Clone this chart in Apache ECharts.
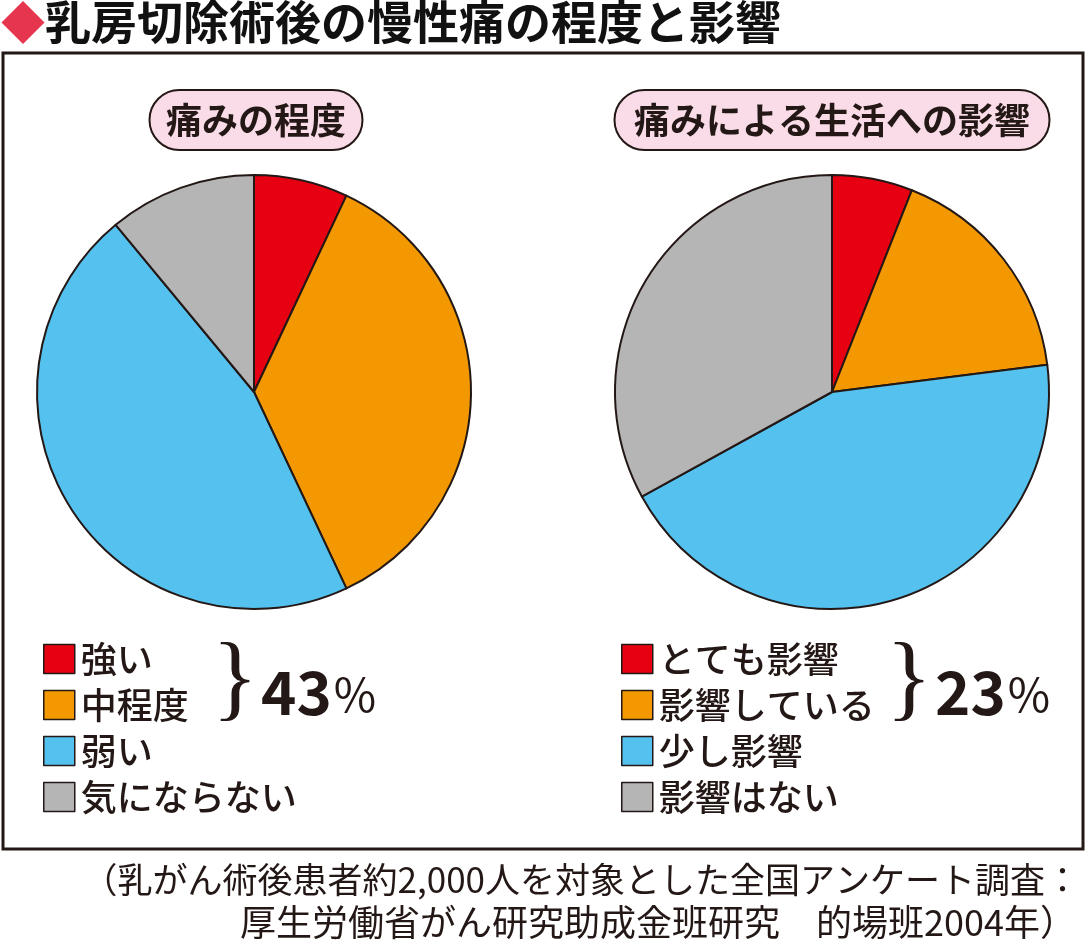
<!DOCTYPE html>
<html>
<head>
<meta charset="utf-8">
<script src="https://cdn.jsdelivr.net/npm/echarts@6/dist/echarts.min.js"></script>
<style>
html,body{margin:0;padding:0;background:#fff;}
#chart{width:1088px;height:944px;}
</style>
</head>
<body>
<div id="chart"></div>
<script>
// ---- data ----
const titleText = '乳房切除術後の慢性痛の程度と影響';
const painTitle = '痛みの程度';
const impactTitle = '痛みによる生活への影響';
const painCategories = ['強い', '中程度', '弱い', '気にならない'];
const painValues = [7, 36, 46, 11];
const impactCategories = ['とても影響', '影響している', '少し影響', '影響はない'];
const impactValues = [6, 17, 44, 33];
const sliceColors = ['#e60012', '#f39800', '#55c1ee', '#b5b5b6'];
const footLine1 = '（乳がん術後患者約2,000人を対象とした全国アンケート調査：';
const footLine2 = '厚生労働省がん研究助成金班研究　的場班2004年）';

const painTop2 = painValues[0] + painValues[1];
const impactTop2 = impactValues[0] + impactValues[1];

const FONT = '"Noto Sans CJK JP", "Noto Sans", sans-serif';
const INK = '#231815';

function toData(cats, vals) {
  return cats.map((c, i) => ({ name: c, value: vals[i], itemStyle: { color: sliceColors[i] } }));
}

const chart = echarts.init(document.getElementById('chart'), null, { renderer: 'canvas' });

function legendCfg(left, names) {
  return {
    orient: 'vertical',
    left: left,
    top: 636,
    data: names,
    icon: 'rect',
    itemWidth: 31,
    itemHeight: 29,
    itemGap: 10,
    selectedMode: false,
    itemStyle: { borderColor: INK, borderWidth: 1.5 },
    textStyle: { fontFamily: FONT, fontSize: 36, fontWeight: 500, color: INK, lineHeight: 36, padding: [0, 0, 0, 1] }
  };
}

function pill(cx, w, text) {
  return {
    type: 'group',
    children: [
      { type: 'rect', shape: { x: cx - w / 2, y: 90, width: w, height: 60, r: 30 },
        style: { fill: '#f9dce7', stroke: INK, lineWidth: 2 } },
      { type: 'text', x: cx, y: 120,
        style: { text: text, fontFamily: FONT, fontSize: 36, fontWeight: 'bold', fill: INK,
                 align: 'center', verticalAlign: 'middle' } }
    ]
  };
}

function bracePct(x, pct) {
  return {
    type: 'group',
    children: [
      { type: 'text', x: x, y: 683,
        style: { text: '}', fontFamily: '"Liberation Serif", serif', fontSize: 96, fill: INK,
                 align: 'left', verticalAlign: 'middle' } },
      { type: 'text', x: x + 49, y: 692,
        style: {
          text: '{a|' + pct + '}{b|%}',
          align: 'left', verticalAlign: 'middle',
          rich: {
            a: { fontFamily: FONT, fontSize: 60, fontWeight: 'bold', fill: INK, color: INK },
            b: { fontFamily: FONT, fontSize: 46, fontWeight: 'normal', fill: INK, color: INK, padding: [6, 0, 0, 2] }
          }
        } }
    ]
  };
}

const option = {
  backgroundColor: '#ffffff',
  animation: false,
  legend: [
    legendCfg(38, painCategories),
    legendCfg(616, impactCategories)
  ],
  series: [
    {
      name: painTitle,
      type: 'pie',
      center: [254, 392],
      radius: 217,
      startAngle: 90,
      clockwise: true,
      label: { show: false },
      labelLine: { show: false },
      emphasis: { disabled: true },
      itemStyle: { borderColor: INK, borderWidth: 2 },
      data: toData(painCategories, painValues)
    },
    {
      name: impactTitle,
      type: 'pie',
      center: [832, 392],
      radius: 217,
      startAngle: 90,
      clockwise: true,
      label: { show: false },
      labelLine: { show: false },
      emphasis: { disabled: true },
      itemStyle: { borderColor: INK, borderWidth: 2 },
      data: toData(impactCategories, impactValues)
    }
  ],
  graphic: [
    // title
    { type: 'text', x: 1, y: 22,
      style: {
        text: '{d|◆}{t|' + titleText + '}',
        verticalAlign: 'middle',
        rich: {
          d: { fontFamily: FONT, fontSize: 44, fill: '#e5354f', color: '#e5354f' },
          t: { fontFamily: FONT, fontSize: 46, fontWeight: 'bold', fill: '#111', color: '#111' }
        }
      } },
    // frame
    { type: 'rect', shape: { x: 3, y: 53, width: 1080, height: 796 },
      style: { fill: 'none', stroke: INK, lineWidth: 3 }, z: 10 },
    pill(256, 213, painTitle),
    pill(832, 435, impactTitle),
    bracePct(212, painTop2),
    bracePct(886, impactTop2),
    // footer
    { type: 'text', x: 1080, y: 880,
      style: { text: footLine1, fontFamily: FONT, fontSize: 35, fill: INK, align: 'right', verticalAlign: 'middle' } },
    { type: 'text', x: 1076, y: 922,
      style: { text: footLine2, fontFamily: FONT, fontSize: 36, fill: INK, align: 'right', verticalAlign: 'middle' } }
  ]
};

chart.setOption(option);
</script>
</body>
</html>
